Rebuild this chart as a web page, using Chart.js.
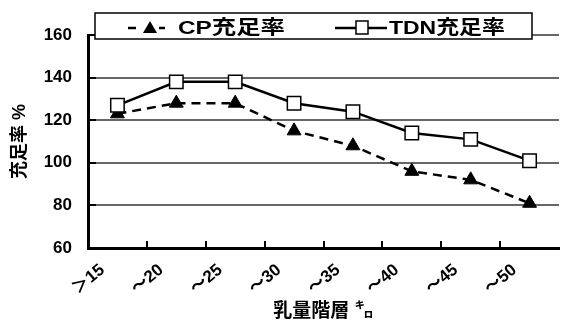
<!DOCTYPE html>
<html>
<head>
<meta charset="utf-8">
<script src="https://cdn.jsdelivr.net/npm/chart.js@4/dist/chart.umd.min.js"></script>
<style>
  html, body { margin: 0; padding: 0; background: #fff; overflow: hidden; }
</style>
</head>
<body>
<canvas id="myChart" width="570" height="323"></canvas>
<script>
const FONT = "'Liberation Sans', 'Noto Sans CJK JP', sans-serif";

// 乳量階層ごとの充足率
const milkClasses = ['＞15', '～20', '～25', '～30', '～35', '～40', '～45', '～50'];
const cpRate = [123, 128, 128, 115, 108, 96, 92, 81];
const tdnRate = [127, 138, 138, 128, 124, 114, 111, 101];
const seriesNames = ['CP充足率', 'TDN充足率'];

// small tick marks pointing into the plot
let innerTicks = {
  id: 'innerTicks',
  afterDatasetsDraw(chart) {
    const ctx = chart.ctx;
    const x = chart.scales.x, y = chart.scales.y;
    const area = chart.chartArea;
    ctx.save();
    ctx.strokeStyle = '#000';
    ctx.lineWidth = 2;
    y.ticks.forEach(t => {
      if (t.value === y.min) return;
      const py = Math.round(y.getPixelForValue(t.value));
      ctx.beginPath();
      ctx.moveTo(area.left, py);
      ctx.lineTo(area.left + 8, py);
      ctx.stroke();
    });
    for (let i = 1; i < milkClasses.length; i++) {
      const px = Math.round((x.getPixelForValue(i - 1) + x.getPixelForValue(i)) / 2);
      ctx.beginPath();
      ctx.moveTo(px, area.bottom);
      ctx.lineTo(px, area.bottom - 7);
      ctx.stroke();
    }
    ctx.restore();
  }
};

// boxed legend with line + marker samples
let legendBox = {
  id: 'legendBox',
  afterDraw(chart) {
    const ctx = chart.ctx;
    const cy = 28;
    ctx.save();
    ctx.fillStyle = '#fff';
    ctx.strokeStyle = '#000';
    ctx.lineWidth = 1.5;
    ctx.fillRect(95, 13, 437, 26);
    ctx.strokeRect(95, 13, 437, 26);

    // CP sample
    ctx.lineWidth = 2.5;
    ctx.beginPath();
    ctx.moveTo(128, cy); ctx.lineTo(136, cy);
    ctx.moveTo(159, cy); ctx.lineTo(165, cy);
    ctx.stroke();
    ctx.fillStyle = '#000';
    ctx.beginPath();
    ctx.moveTo(150, cy - 7);
    ctx.lineTo(157, cy + 5);
    ctx.lineTo(143, cy + 5);
    ctx.closePath();
    ctx.fill();

    // TDN sample
    ctx.beginPath();
    ctx.moveTo(335, cy); ctx.lineTo(387, cy);
    ctx.stroke();
    ctx.fillStyle = '#fff';
    ctx.lineWidth = 1.5;
    ctx.fillRect(356, cy - 7, 12, 13);
    ctx.strokeRect(356, cy - 7, 12, 13);

    ctx.fillStyle = '#000';
    ctx.font = 'bold 19px ' + FONT;
    ctx.textBaseline = 'middle';
    const drawStretched = (text, x0, w) => {
      const sx = w / ctx.measureText(text).width;
      ctx.save();
      ctx.translate(x0, cy + 1);
      ctx.scale(sx, 1);
      ctx.fillText(text, 0, 0);
      ctx.restore();
    };
    drawStretched(seriesNames[0], 178, 107);
    drawStretched(seriesNames[1], 389, 116);
    ctx.restore();
  }
};

let ctx = document.getElementById('myChart').getContext('2d');
let chart = new Chart(ctx, {
  type: 'line',
  data: {
    labels: milkClasses,
    datasets: [{
      label: seriesNames[0],
      data: cpRate,
      order: 2,
      borderColor: '#000',
      borderWidth: 2.5,
      borderDash: [9, 6],
      pointStyle: 'triangle',
      pointRadius: 8,
      pointBackgroundColor: '#000',
      pointBorderColor: '#000',
      pointBorderWidth: 1,
      tension: 0
    }, {
      label: seriesNames[1],
      data: tdnRate,
      order: 1,
      borderColor: '#000',
      borderWidth: 2.5,
      pointStyle: 'rect',
      pointRadius: 9.5,
      pointBackgroundColor: '#fff',
      pointBorderColor: '#000',
      pointBorderWidth: 1.5,
      tension: 0
    }]
  },
  options: {
    responsive: false,
    animation: false,
    layout: { padding: { top: 35, right: 3, left: 0, bottom: 0 } },
    plugins: {
      legend: { display: false },
      tooltip: { enabled: false }
    },
    scales: {
      x: {
        offset: true,
        grid: { display: false, drawTicks: false },
        border: { display: true, color: '#000', width: 3 },
        ticks: {
          color: '#000',
          font: { family: FONT, size: 17, weight: 'bold' },
          minRotation: 40,
          maxRotation: 40,
          labelOffset: -15,
          padding: 12
        },
        title: {
          display: true,
          text: '乳量階層 ㌔',
          color: '#000',
          font: { family: FONT, size: 19, weight: 'bold' },
          padding: { top: 0, bottom: 0 }
        },
        afterFit: scale => { scale.height = 75; }
      },
      y: {
        min: 60,
        max: 160,
        ticks: {
          stepSize: 20,
          color: '#000',
          font: { family: FONT, size: 17, weight: 'bold' },
          padding: 16
        },
        grid: {
          drawTicks: false,
          lineWidth: 2,
          color: c => c.tick && c.tick.value === 60 ? 'rgba(0,0,0,0)' : '#666'
        },
        border: { display: true, color: '#000', width: 3 },
        title: {
          display: true,
          text: '充足率 %',
          color: '#000',
          font: { family: FONT, size: 18, weight: 'bold' },
          padding: { top: 9, bottom: 0 }
        },
        afterFit: scale => { scale.width = 88; }
      }
    }
  },
  plugins: [innerTicks, legendBox]
});
</script>
</body>
</html>
